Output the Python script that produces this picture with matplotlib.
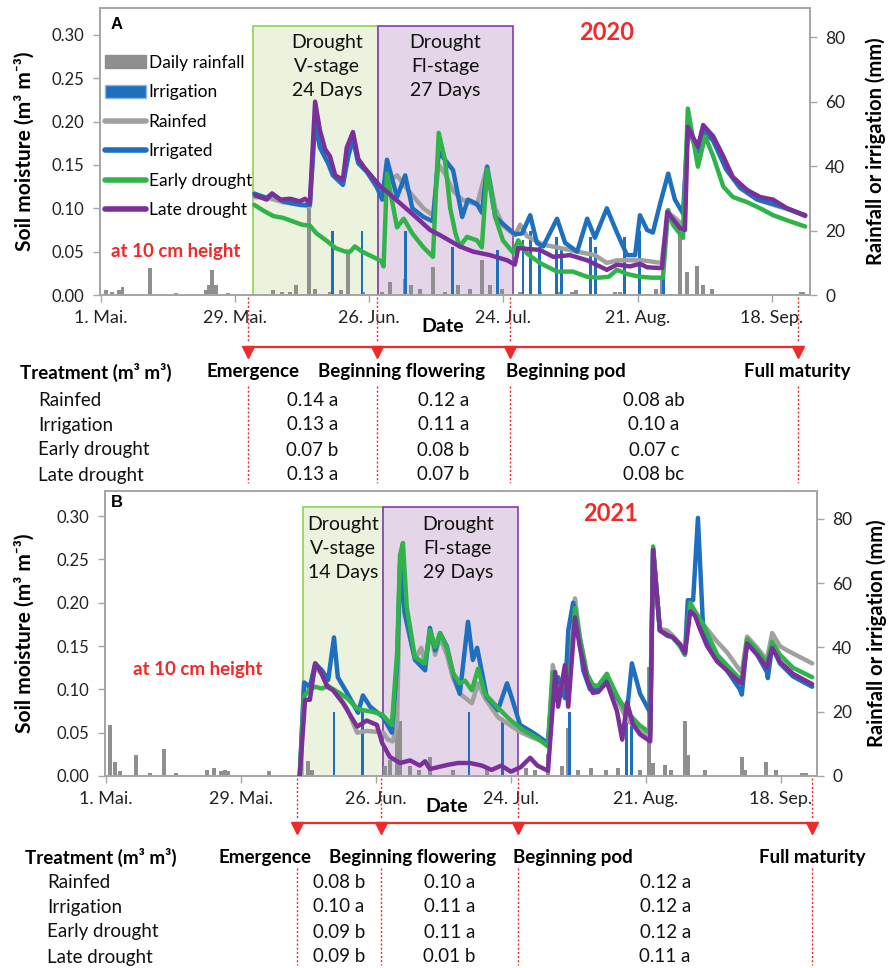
import matplotlib
matplotlib.use('Agg')
import matplotlib.pyplot as plt
import matplotlib.transforms as mtrans
from matplotlib.lines import Line2D
from matplotlib.patches import Patch, Rectangle

plt.rcParams['font.family'] = ['Lato', 'DejaVu Sans']

# ---------------- data ----------------
tick_days = [0, 28, 56, 84, 112, 140]          # days after 1 May
tick_labels = ['1. Mai.', '29. Mai.', '26. Jun.', '24. Jul.', '21. Aug.', '18. Sep.']
moist_ticks = [0.00, 0.05, 0.10, 0.15, 0.20, 0.25, 0.30]
rain_ticks = [0, 20, 40, 60, 80]

stage_names = ['Emergence', 'Beginning flowering', 'Beginning pod', 'Full maturity']
treat_names = ['Rainfed', 'Irrigation', 'Early drought', 'Late drought']

# ---- 2020 (panel A) : (day after 1 May, value)
A_rainfed = [(32, 0.113), (35, 0.112), (38, 0.107), (41.5, 0.104), (43.6, 0.102), (44.7, 0.200), (45.7, 0.175),
             (47.4, 0.155), (48.4, 0.140), (50.5, 0.128), (51.6, 0.160), (52.6, 0.180), (53.7, 0.155), (55.5, 0.143),
             (57.6, 0.128), (58.7, 0.122), (59.7, 0.130), (61.8, 0.138), (63.5, 0.125), (65, 0.115), (67.3, 0.100),
             (69.3, 0.092), (70.5, 0.150), (71.8, 0.140), (73.5, 0.120), (75.4, 0.110), (78.5, 0.104), (80.6, 0.148),
             (82.3, 0.100), (83.9, 0.080), (86.4, 0.069), (87.5, 0.081), (88.9, 0.068), (92.3, 0.058), (95.2, 0.055),
             (99.4, 0.050), (103.1, 0.046), (105.6, 0.037), (107.7, 0.040), (110, 0.040), (113, 0.040), (117, 0.037),
             (118.4, 0.095), (120, 0.088), (121.5, 0.080), (122.5, 0.190), (124.6, 0.165), (125.7, 0.190),
             (127.8, 0.178), (130.5, 0.145), (133.4, 0.123), (137, 0.110), (140.3, 0.104), (143.8, 0.098), (147, 0.092)]
A_irrigated = [(32, 0.117), (34.6, 0.112), (35.7, 0.117), (38, 0.108), (41.5, 0.104), (43.6, 0.104), (44.7, 0.200),
               (45.7, 0.170), (47.4, 0.152), (48.4, 0.138), (50.5, 0.127), (51.6, 0.160), (52.6, 0.180), (53.7, 0.152),
               (55.5, 0.142), (57.6, 0.124), (58.7, 0.110), (59.7, 0.156), (61.8, 0.113), (63.5, 0.138), (65, 0.100),
               (67.3, 0.090), (69.3, 0.085), (70.5, 0.165), (71.8, 0.156), (73.5, 0.144), (75.4, 0.090), (76.6, 0.110),
               (78.5, 0.105), (79.5, 0.095), (80.6, 0.148), (82.3, 0.090), (83.9, 0.082), (86.4, 0.070), (87.9, 0.071),
               (89.6, 0.092), (91, 0.060), (92.3, 0.056), (95.2, 0.088), (96.9, 0.060), (99.4, 0.050), (101.5, 0.088),
               (103.1, 0.066), (105.6, 0.100), (107.7, 0.072), (109.8, 0.046), (111.5, 0.046), (112.5, 0.092),
               (114, 0.075), (115.2, 0.072), (116.7, 0.105), (118.4, 0.140), (119.8, 0.110), (121.5, 0.094),
               (122.5, 0.194), (124.6, 0.165), (125.7, 0.190), (127.8, 0.178), (130.5, 0.145), (133.4, 0.124),
               (137, 0.110), (140.3, 0.105), (143.2, 0.100), (147, 0.091)]
A_early = [(32, 0.104), (34, 0.097), (36, 0.091), (38, 0.089), (40, 0.085), (42, 0.081), (43.6, 0.080), (45, 0.071),
           (47, 0.063), (49, 0.054), (51, 0.050), (52, 0.050), (53, 0.056), (54.5, 0.050), (56, 0.046), (57.5, 0.042),
           (58.5, 0.039), (59, 0.033), (59.7, 0.140), (61.8, 0.078), (63.2, 0.088), (65, 0.071), (67.3, 0.055),
           (69.3, 0.044), (70.5, 0.187), (71.8, 0.156), (72.9, 0.100), (74, 0.071), (74.9, 0.056), (76.4, 0.067),
           (78.5, 0.063), (79.5, 0.055), (80.6, 0.145), (82.3, 0.090), (83.9, 0.063), (86, 0.049), (87.1, 0.063),
           (88.9, 0.048), (91.6, 0.037), (95.2, 0.027), (98.5, 0.027), (101.5, 0.021), (104, 0.020), (106, 0.021),
           (107.7, 0.029), (110, 0.024), (112.5, 0.021), (115, 0.020), (117.3, 0.020), (118.4, 0.098), (119.4, 0.081),
           (121.5, 0.066), (122.5, 0.215), (124.6, 0.148), (126.1, 0.183), (127.8, 0.160), (129.9, 0.125),
           (131.9, 0.113), (134.9, 0.107), (137.6, 0.100), (140.3, 0.092), (143.8, 0.085), (147, 0.079)]
A_late = [(32.2, 0.115), (34.6, 0.110), (35.7, 0.117), (37.4, 0.110), (39.5, 0.111), (41.5, 0.108), (42.6, 0.111),
          (43.6, 0.106), (44.7, 0.223), (45.7, 0.190), (46.8, 0.168), (47.8, 0.160), (48.9, 0.138), (50.5, 0.133),
          (51.3, 0.170), (52.6, 0.188), (53.7, 0.157), (55.1, 0.146), (56.8, 0.135), (58.2, 0.126), (59.9, 0.118),
          (62.4, 0.106), (65.1, 0.093), (68.7, 0.075), (70.8, 0.069), (74.9, 0.056), (77.7, 0.050), (81.2, 0.046),
          (84.8, 0.040), (86.4, 0.035), (87.1, 0.054), (91.6, 0.052), (94.4, 0.044), (97.9, 0.046), (101.5, 0.040),
          (105.6, 0.029), (107.7, 0.035), (110.4, 0.033), (112.5, 0.036), (114, 0.032), (117.1, 0.031),
          (118.2, 0.096), (120.9, 0.077), (121.9, 0.075), (122.5, 0.194), (124.6, 0.171), (125.7, 0.196),
          (127.8, 0.183), (129.9, 0.160), (131.9, 0.136), (134.9, 0.121), (137.6, 0.113), (140.3, 0.110),
          (143.2, 0.100), (147, 0.092)]
A_rain = [(1, 1.5), (2.3, 1), (3.8, 1.5), (4.5, 2.5), (10.2, 8.4), (15.7, 0.5), (21.9, 1.5), (22.5, 3), (23.2, 7.8),
          (24, 3), (26.5, 0.5), (35.9, 1.5), (37.8, 1), (39.5, 1), (40.7, 3), (43.4, 27), (44.7, 2), (47.8, 1),
          (50.1, 1.5), (51.6, 13), (54.7, 1), (58.7, 1), (60.3, 4), (63.5, 5), (64.7, 3), (66.6, 2), (69.3, 8.7),
          (71.8, 1), (74.5, 3), (77, 2), (79.5, 11), (81.2, 3), (83.7, 2), (87.5, 1), (91.6, 1), (95.8, 1), (98.3, 1),
          (99.2, 1.5), (107.3, 1), (108.4, 1), (115.9, 2), (117.1, 5), (120.9, 19), (122.3, 7), (124.4, 9),
          (125.7, 3), (127.6, 2), (146, 1), (146.6, 1)]
A_irrig = [(48.4, 20), (54.5, 20), (63.5, 20), (73.3, 15), (82.7, 14), (88.1, 17), (89.6, 20), (91.6, 15),
           (95, 18), (96.2, 15), (102.1, 18), (103.3, 15), (109.2, 18), (112.5, 20), (117.5, 16)]
A_boxes = [(31.7, 57.8), (57.8, 86.0)]
A_box_text = ['Drought\nV-stage\n24 Days', 'Drought\nFl-stage\n27 Days']
A_box_text_day = [47.2, 71.8]
A_stage_days = [30.7, 57.6, 85.4, 145.5]
A_table = [['0.14 a', '0.13 a', '0.07 b', '0.13 a'],
           ['0.12 a', '0.11 a', '0.08 b', '0.07 b'],
           ['0.08 ab', '0.10 a', '0.07 c', '0.08 bc']]

# ---- 2021 (panel B)
B_rainfed = [(40.2, 0.0), (41.1, 0.105), (42.3, 0.100), (43.4, 0.125), (44.8, 0.118), (46.1, 0.103), (47.3, 0.100),
             (49.2, 0.085), (50.0, 0.078), (52.1, 0.050), (54.1, 0.052), (56.2, 0.051), (57.5, 0.050), (58.5, 0.042),
             (59.5, 0.040), (60.4, 0.060), (61.0, 0.240), (62.0, 0.185), (64.1, 0.135), (65.4, 0.148), (66.2, 0.130),
             (67.2, 0.165), (68.3, 0.140), (69.3, 0.160), (70.7, 0.140), (72.0, 0.113), (73.4, 0.095), (75.9, 0.084),
             (77.2, 0.107), (78.6, 0.090), (81.3, 0.068), (85.9, 0.051), (88.6, 0.044), (91.7, 0.038), (92.7, 0.128),
             (93.8, 0.090), (95.2, 0.110), (96.0, 0.100), (97.3, 0.205), (98.3, 0.160), (99.8, 0.115), (101.0, 0.100),
             (102.1, 0.098), (103.9, 0.110), (106.0, 0.088), (108.1, 0.065), (110.8, 0.052), (112.9, 0.045),
             (113.5, 0.260), (114.9, 0.170), (116.4, 0.168), (117.6, 0.162), (119.1, 0.152), (120.1, 0.142),
             (121.2, 0.197), (122.2, 0.190), (123.9, 0.175), (126.8, 0.155), (128.8, 0.143), (131.5, 0.122),
             (131.9, 0.120), (133.0, 0.161), (135.1, 0.148), (137.1, 0.134), (138.2, 0.165), (139.8, 0.150),
             (141.3, 0.145), (146.5, 0.130)]
B_irrigated = [(40.2, 0.0), (41.1, 0.108), (42.3, 0.103), (43.4, 0.130), (44.8, 0.122), (46.1, 0.111), (47.3, 0.160),
               (48.1, 0.114), (50.0, 0.096), (52.3, 0.073), (53.3, 0.093), (54.8, 0.080), (57.5, 0.068), (59.3, 0.050),
               (60.4, 0.130), (61.0, 0.246), (62.0, 0.188), (64.1, 0.134), (66.2, 0.122), (67.2, 0.171), (68.3, 0.145),
               (69.3, 0.165), (70.7, 0.150), (72.0, 0.119), (73.4, 0.095), (75.1, 0.178), (76.1, 0.134), (77.0, 0.148),
               (79.0, 0.091), (81.3, 0.076), (83.2, 0.107), (84.2, 0.090), (85.9, 0.059), (88.6, 0.050), (91.7, 0.038),
               (92.7, 0.110), (93.8, 0.114), (95.2, 0.090), (95.9, 0.168), (96.9, 0.200), (97.7, 0.180), (99.0, 0.122),
               (100.4, 0.100), (102.1, 0.100), (103.9, 0.114), (106.0, 0.091), (108.1, 0.075), (109.1, 0.130),
               (110.8, 0.095), (112.9, 0.073), (113.5, 0.263), (114.9, 0.168), (116.4, 0.162), (117.6, 0.160),
               (119.1, 0.150), (120.1, 0.140), (120.7, 0.203), (121.8, 0.203), (122.8, 0.298), (123.9, 0.168),
               (124.7, 0.155), (126.8, 0.135), (128.8, 0.122), (131.5, 0.100), (131.9, 0.094), (133.0, 0.155),
               (135.1, 0.140), (137.1, 0.120), (137.3, 0.113), (138.2, 0.150), (139.8, 0.130), (142.5, 0.115),
               (146.5, 0.103)]
B_early = [(40.2, 0.0), (41.1, 0.092), (42.3, 0.100), (43.4, 0.103), (44.8, 0.101), (46.1, 0.104), (47.1, 0.100),
           (48.1, 0.097), (50.0, 0.090), (52.1, 0.078), (53.3, 0.076), (55.4, 0.074), (57.3, 0.071), (59.3, 0.059),
           (60.4, 0.142), (61.0, 0.255), (61.6, 0.269), (62.4, 0.195), (64.1, 0.137), (66.2, 0.130), (67.2, 0.168),
           (68.3, 0.149), (69.3, 0.165), (70.7, 0.148), (72.0, 0.119), (73.4, 0.107), (74.5, 0.110), (75.9, 0.099),
           (77.2, 0.124), (78.6, 0.095), (81.1, 0.080), (83.8, 0.065), (86.5, 0.053), (89.4, 0.044), (91.7, 0.034),
           (92.7, 0.120), (93.8, 0.085), (95.2, 0.120), (95.9, 0.090), (97.3, 0.194), (98.3, 0.160), (99.8, 0.118),
           (101.0, 0.105), (102.1, 0.104), (103.9, 0.118), (106.0, 0.093), (108.1, 0.072), (109.1, 0.068),
           (110.8, 0.058), (112.9, 0.050), (113.5, 0.265), (114.9, 0.168), (116.4, 0.163), (117.6, 0.160),
           (119.1, 0.150), (120.1, 0.140), (121.2, 0.200), (122.2, 0.190), (123.9, 0.175), (126.8, 0.140),
           (128.8, 0.128), (131.5, 0.112), (131.9, 0.110), (133.0, 0.158), (135.1, 0.145), (137.1, 0.130),
           (138.2, 0.155), (139.8, 0.140), (142.5, 0.125), (146.5, 0.114)]
B_late = [(40.2, 0.0), (41.3, 0.088), (42.3, 0.088), (43.4, 0.130), (44.4, 0.122), (45.9, 0.103), (47.1, 0.099),
          (49.2, 0.084), (52.1, 0.057), (54.1, 0.064), (56.2, 0.059), (57.3, 0.038), (58.9, 0.022), (61.0, 0.015),
          (63.1, 0.018), (65.1, 0.012), (66.2, 0.017), (67.2, 0.008), (68.7, 0.010), (71.0, 0.013), (73.0, 0.015),
          (75.5, 0.015), (78.0, 0.012), (80.0, 0.007), (82.0, 0.012), (84.0, 0.005), (86.0, 0.010), (88.0, 0.021),
          (89.5, 0.012), (91.7, 0.006), (93.2, 0.120), (93.8, 0.080), (95.2, 0.128), (95.9, 0.080), (97.3, 0.183),
          (98.3, 0.149), (99.8, 0.111), (101.0, 0.096), (102.1, 0.097), (103.9, 0.108), (106.0, 0.075),
          (107.1, 0.042), (108.1, 0.085), (109.3, 0.060), (110.8, 0.048), (112.9, 0.040), (113.5, 0.261),
          (114.9, 0.168), (116.4, 0.163), (117.6, 0.160), (119.1, 0.152), (120.1, 0.142), (121.2, 0.190),
          (122.2, 0.185), (123.2, 0.170), (124.7, 0.150), (126.8, 0.132), (128.8, 0.122), (131.5, 0.108),
          (131.9, 0.107), (133.0, 0.153), (135.1, 0.140), (137.1, 0.125), (138.2, 0.148), (139.8, 0.132),
          (142.5, 0.118), (146.5, 0.106)]
B_rain = [(0.8, 16), (1.9, 4.4), (2.9, 1.5), (6.2, 6.5), (9.1, 1), (12.0, 8.4), (14.5, 1), (21.0, 2), (22.4, 2.5),
          (23.9, 1.5), (24.7, 2), (25.3, 1.5), (33.8, 1.5), (41.9, 4.7), (42.7, 2), (57.9, 3), (58.9, 5), (60.4, 40),
          (61.0, 17), (63.1, 3), (64.9, 2), (67.2, 6), (72.0, 2), (79.0, 3), (87.1, 2.5), (89.0, 2), (91.7, 7),
          (94.6, 3), (95.9, 15), (97.9, 2), (100.6, 2.5), (103.7, 2), (106.2, 2.5), (110.8, 2), (112.7, 34),
          (113.5, 4), (116.0, 3.4), (117.2, 2), (120.1, 17), (120.7, 6.5), (124.3, 2), (131.9, 6), (132.6, 2),
          (136.9, 4.4), (139.0, 2), (144.4, 1), (145.2, 1)]
B_irrig = [(47.3, 20), (53.3, 20), (75.3, 20), (82.2, 18), (96.1, 20), (107.9, 17), (109.1, 17)]
B_boxes = [(40.9, 57.5), (57.5, 85.5)]
B_box_text = ['Drought\nV-stage\n14 Days', 'Drought\nFl-stage\n29 Days']
B_box_text_day = [49.2, 73.0]
B_stage_days = [39.6, 57.05, 85.5, 146.5]
B_table = [['0.08 b', '0.10 a', '0.09 b', '0.09 b'],
           ['0.10 a', '0.11 a', '0.11 a', '0.01 b'],
           ['0.12 a', '0.12 a', '0.12 a', '0.11 a']]

# ---------------- style ----------------
W, H = 889, 968
C_GRAY = '#a0a0a0'
C_RAIN = '#8f8f8f'
C_BLUE = '#1f6fbf'
C_GREEN = '#30b44a'
C_PURPLE = '#7a2f9b'
C_RED = '#ee2a2a'
C_SPINE = '#a6a6a6'
BOX_FILL = ['#ebf2de', '#e5d5e8']
BOX_EDGE = ['#92d050', '#8040a8']
FS_TAB = 13.5

fig = plt.figure(figsize=(W / 100, H / 100), dpi=100)


def ftext(px, py, s, **kw):
    fig.text(px / W, 1 - py / H, s, **kw)


def panel(L, T, R, B, xmax, ymax_m, ymax_r, series, rain, irrig, boxes, box_text, box_text_day,
          year, year_day, letter, letter_xy, note_xy, stage_days, table, arrow_px, dot_up_px, dot_lo_px,
          rows_px, legend=False):
    ax = fig.add_axes([L / W, 1 - B / H, (R - L) / W, (B - T) / H])
    ax2 = ax.twinx()
    ax.set_zorder(ax2.get_zorder() + 1)
    ax.patch.set_visible(False)
    ax2.patch.set_visible(False)
    ax.set_xlim(-0.2, xmax)
    ax.set_ylim(0, ymax_m)
    ax2.set_ylim(0, ymax_r)
    hpx = B - T

    def yfrac(py):
        return (B - py) / hpx

    # drought period boxes
    btr = mtrans.blended_transform_factory(ax2.transData, ax.transData)
    for (s, e), fc, ec in zip(boxes, BOX_FILL, BOX_EDGE):
        ax2.add_patch(Rectangle((s, 0), e - s, 0.31, transform=btr, facecolor=fc, edgecolor=ec,
                                lw=1.2, zorder=0))
    # bars
    rd, rv = zip(*rain)
    ax2.bar(rd, rv, width=0.8, color=C_RAIN, zorder=2)
    idd, iv = zip(*irrig)
    ax2.bar(idd, iv, width=0.6, color=C_BLUE, zorder=2)
    # lines
    for (pts, col) in zip(series, [C_GRAY, C_BLUE, C_GREEN, C_PURPLE]):
        d, v = zip(*pts)
        ax.plot(d, v, color=col, lw=3.2, solid_joinstyle='round', solid_capstyle='round', zorder=3)

    # axes styling
    ax.set_xticks(tick_days)
    ax.set_xticklabels(tick_labels)
    ax.set_yticks(moist_ticks)
    ax.set_yticklabels([f'{t:.2f}' for t in moist_ticks])
    ax2.set_yticks(rain_ticks)
    ax.tick_params(axis='x', direction='out', length=5, width=1, color=C_SPINE, labelsize=13, pad=6,
                   labelcolor='#222222')
    ax.tick_params(axis='y', direction='out', length=5, width=1, color=C_SPINE, labelsize=12, pad=6,
                   labelcolor='#222222')
    ax2.tick_params(axis='y', direction='out', length=5, width=1, color=C_SPINE, labelsize=12.5, pad=6,
                    labelcolor='#222222')
    for a in (ax, ax2):
        for sp in a.spines.values():
            sp.set_color(C_SPINE)
            sp.set_linewidth(1.3)

    # annotations in plot
    for dd, txt in zip(box_text_day, box_text):
        ax.text(dd, 0.263, txt, ha='center', va='center', fontsize=14, linespacing=1.5, color='#111111')
    ax.text(year_day, 0.303, year, ha='center', va='center', fontsize=17, fontweight='bold', color=C_RED)
    ax.text(letter_xy[0], letter_xy[1], letter, transform=ax.transAxes, ha='center', va='center',
            fontsize=12, fontweight='bold', family=['Liberation Sans', 'DejaVu Sans'])
    ax.text(note_xy[0], note_xy[1], 'at 10 cm height', transform=ax.transAxes, ha='left', va='center',
            fontsize=13.5, fontweight='bold', color=C_RED)

    if legend:
        handles = [Patch(facecolor=C_RAIN, edgecolor=C_RAIN),
                   Patch(facecolor=C_BLUE, edgecolor='#8db5e2', lw=1),
                   Line2D([], [], color=C_GRAY, lw=4, solid_capstyle='round'),
                   Line2D([], [], color=C_BLUE, lw=4, solid_capstyle='round'),
                   Line2D([], [], color=C_GREEN, lw=4, solid_capstyle='round'),
                   Line2D([], [], color=C_PURPLE, lw=4, solid_capstyle='round')]
        labels = ['Daily rainfall', 'Irrigation', 'Rainfed', 'Irrigated', 'Early drought', 'Late drought']
        ax.legend(handles, labels, loc='upper left', bbox_to_anchor=(0.004, yfrac(53)), frameon=False,
                  fontsize=12.5, handlelength=2.4, handleheight=0.75, handletextpad=0.15,
                  labelspacing=0.78, borderpad=0.1, borderaxespad=0)

    # stage arrows
    tr = mtrans.blended_transform_factory(ax.transData, ax.transAxes)
    ya = yfrac(arrow_px)
    ax.plot([stage_days[0], stage_days[-1]], [ya, ya], color=C_RED, lw=1.6, transform=tr, clip_on=False)
    ax.plot(stage_days, [yfrac(arrow_px + 5)] * len(stage_days), 'v', color=C_RED, ms=8,
            transform=tr, clip_on=False)
    for sd in stage_days:
        ax.plot([sd, sd], [yfrac(dot_up_px[0]), yfrac(dot_up_px[1])], ls=(0, (1.5, 1.5)), color=C_RED,
                lw=1, transform=tr, clip_on=False)
        ax.plot([sd, sd], [yfrac(dot_lo_px[0]), yfrac(dot_lo_px[1])], ls=(0, (1.5, 1.5)), color=C_RED,
                lw=1, transform=tr, clip_on=False)
    # table values
    for i, col in enumerate(table):
        mid = (stage_days[i] + stage_days[i + 1]) / 2
        for j, val in enumerate(col):
            ax.text(mid, yfrac(rows_px[j]), val, transform=tr, ha='center', va='center',
                    fontsize=FS_TAB, clip_on=False, color='#111111')
    return ax


axA = panel(100, 8, 810, 295, 148.0, 0.331, 89.0, [A_rainfed, A_irrigated, A_early, A_late], A_rain, A_irrig,
            A_boxes, A_box_text, A_box_text_day, '2020', 105.6, 'A', (0.024, 0.944), (0.0155, 0.150),
            A_stage_days, A_table, 347, (297, 342), (386, 483), [400, 425, 450, 475], legend=True)
axB = panel(105, 491, 817, 776, 147.5, 0.329, 88.7, [B_rainfed, B_irrigated, B_early, B_late], B_rain, B_irrig,
            B_boxes, B_box_text, B_box_text_day, '2021', 104.6, 'B', (0.016, 0.958), (0.039, 0.372),
            B_stage_days, B_table, 823, (778, 818), (868, 965), [882, 907, 932, 957])

# axis titles
for yc, xl, xr, xd, yd in [(151, 24, 876, 443, 326), (633, 24, 877, 447, 806)]:
    ftext(xl, yc, 'Soil moisture (m³ m⁻³)', rotation=90, ha='center', va='center', fontsize=15,
          fontweight='bold')
    ftext(xr, yc, 'Rainfall or irrigation (mm)', rotation=90, ha='center', va='center', fontsize=14.5,
          fontweight='bold')
    ftext(xd, yd, 'Date', ha='center', va='center', fontsize=14, fontweight='bold')

# table headers and row labels
for hy, lefts, rowx, rows in [(372, [20, 207, 318, 506, 744], 38, [400, 425, 450, 475]),
                              (857, [25, 218, 329, 513, 759], 47, [882, 907, 932, 957])]:
    ftext(lefts[0], hy, 'Treatment (m³ m³)', ha='left', va='center', fontsize=13.5, fontweight='bold')
    for x0, name in zip(lefts[1:], stage_names):
        ftext(x0, hy, name, ha='left', va='center', fontsize=13.5, fontweight='bold')
    for ry, name in zip(rows, treat_names):
        ftext(rowx, ry, name, ha='left', va='center', fontsize=FS_TAB, color='#111111')

fig.savefig('out.png', dpi=100)
